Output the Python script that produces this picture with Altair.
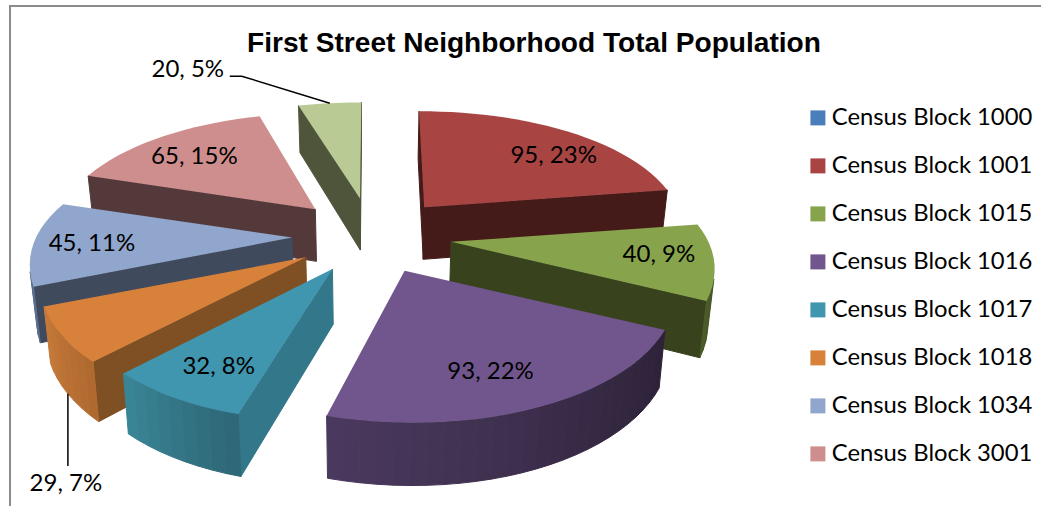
import math
import altair as alt

W, H = 1041, 506

# Chart values
BLOCKS = ["Census Block 1000", "Census Block 1001", "Census Block 1015", "Census Block 1016",
          "Census Block 1017", "Census Block 1018", "Census Block 1034", "Census Block 3001",
          "Census Block 3002"]
VALUES = [0, 95, 40, 93, 32, 29, 45, 65, 20]
PERCENTS = [0, 23, 9, 22, 8, 7, 11, 15, 5]
LEGEND_BLOCKS = BLOCKS[:8]

# Palette: top face, side wall, outer wall at its start and end angle
TOP = ["#4a7ebb", "#a84543", "#87a44c", "#70568c", "#4096ae", "#d7813b", "#91a6cc", "#ce8e8d", "#b9ca94"]
WALL = ["#2a4a70", "#451b19", "#38431e", "#2d2338", "#33778a", "#7f5024", "#3f4a5c", "#53393a", "#4e553b"]
OUTER_A = ["#2a4a70", "#451b19", "#38431e", "#2d2238", "#2f6878", "#b06a30", "#5a6c8c", "#53393a", "#4e553b"]
OUTER_B = ["#2a4a70", "#451b19", "#4c5c2a", "#4b3a5f", "#3a8799", "#c87b3a", "#7d93b8", "#53393a", "#4e553b"]

# Pie geometry
CX, CY = 372.0, 236.0      # common centre before the slices are pulled out
EXPLODE_X, EXPLODE_Y = 80.0, 38.0
DRAW_ORDER = [8, 1, 7, 6, 2, 5, 4, 3]
SLICE_SCALE = {1: 0.975, 2: 0.99, 3: 1.02, 6: 0.985, 7: 0.975}

# Label placement, as a share of the way along a slice's middle radius
LABEL_FX = {1: 0.94, 2: 0.79, 3: 0.64, 4: 0.72, 6: 0.775, 7: 0.80}
LABEL_FY = {1: 0.66, 2: 0.68, 3: 0.74, 4: 0.76, 6: 1.20, 7: 0.72}

total = sum(VALUES)


def angles():
    out, a = [], 0.0
    for v in VALUES:
        b = a + 360.0 * v / total
        out.append((a, b))
        a = b
    return out


ANGLES = angles()


def apex(i):
    mid = math.radians(sum(ANGLES[i]) / 2)
    return CX + EXPLODE_X * math.sin(mid), CY - EXPLODE_Y * math.cos(mid)


def radial(i, deg):
    """Screen offset from a slice's apex to its rim; near parts appear larger."""
    t = math.radians(deg)
    s, c = math.sin(t), math.cos(t)
    ax = apex(i)[0] - CX
    lean = 0.1 if c > 0 else 0.1 + 0.17 * c * c
    vertical = 122 - (26 if c > 0 else 30) * c
    k = SLICE_SCALE.get(i, 1.0)
    return k * s * (260 - 50 * c) - lean * ax * c, -c * vertical


def rim(i, deg):
    ax, ay = apex(i)
    dx, dy = radial(i, deg)
    return ax + dx, ay + dy


def drop(p):
    """Lower face of a point on the upper face."""
    x, y = p
    return x + (CX - x) * 0.02, y + 47 + 0.05 * (y - 106)


def mix(c1, c2, f):
    a = [int(c1[k:k + 2], 16) for k in (1, 3, 5)]
    b = [int(c2[k:k + 2], 16) for k in (1, 3, 5)]
    return "#" + "".join(f"{round(x + (y - x) * f):02x}" for x, y in zip(a, b))


def polygon(points, **props):
    ring = [[round(x, 2), round(y, 2)] for x, y in points]
    ring.append(ring[0])
    return {"type": "Feature", "properties": props, "geometry": {"type": "Polygon", "coordinates": [ring]}}


def polyline(points):
    return {"type": "Feature", "properties": {},
            "geometry": {"type": "LineString", "coordinates": [[round(x, 2), round(y, 2)] for x, y in points]}}


def faces_visible(a, b):
    q = [a, b, drop(b), drop(a)]
    return sum(q[k][0] * q[(k + 1) % 4][1] - q[(k + 1) % 4][0] * q[k][1] for k in range(4)) < 0


PROJ = dict(type="identity", scale=1, translate=[0, 0])
layers = []

for i in DRAW_ORDER:
    a0, a1 = ANGLES[i]
    steps = max(2, int((a1 - a0) / 3.0))
    arc = [a0 + (a1 - a0) * k / steps for k in range(steps + 1)]
    rim_pts = [rim(i, d) for d in arc]
    ap = apex(i)

    walls = []
    for p, q in ((ap, rim_pts[0]), (rim_pts[-1], ap)):
        if faces_visible(p, q):
            walls.append(polygon([p, q, drop(q), drop(p)], fill=WALL[i]))
    for k in range(steps):
        p, q = rim_pts[k], rim_pts[k + 1]
        if faces_visible(p, q):
            walls.append(polygon([p, q, drop(q), drop(p)], fill=mix(OUTER_A[i], OUTER_B[i], k / steps)))

    if walls:
        layers.append(
            alt.Chart(alt.Data(values=walls)).mark_geoshape(strokeWidth=1).encode(
                fill=alt.Fill("properties.fill:N", scale=None),
                stroke=alt.Stroke("properties.fill:N", scale=None),
            ).project(**PROJ)
        )

    top = polygon([ap] + rim_pts, block=BLOCKS[i], fill=TOP[i])
    if i < 8:
        layers.append(
            alt.Chart(alt.Data(values=[top])).mark_geoshape().encode(
                color=alt.Color(
                    "properties.block:N",
                    scale=alt.Scale(domain=LEGEND_BLOCKS, range=TOP[:8]),
                    legend=alt.Legend(
                        title=None, orient="none", legendX=806, legendY=106, padding=0,
                        symbolType="square", symbolSize=225, symbolStrokeWidth=0,
                        labelFont="Lato", labelFontSize=23.8, labelColor="#000000",
                        labelOffset=2, rowPadding=23, labelLimit=260,
                    ),
                )
            ).project(**PROJ)
        )
    else:
        layers.append(
            alt.Chart(alt.Data(values=[top])).mark_geoshape().encode(
                fill=alt.Fill("properties.fill:N", scale=None)
            ).project(**PROJ)
        )

# Frame along the left and top of the chart area
frame = polyline([(10, H + 5), (10, 6), (W + 5, 6)])
layers.append(
    alt.Chart(alt.Data(values=[frame])).mark_geoshape(filled=False, stroke="#8c8c8c", strokeWidth=2).project(**PROJ)
)


def mid_rim_bottom(i):
    return drop(rim(i, sum(ANGLES[i]) / 2))


# Leader lines for the two labels set outside the pie
orange_end = mid_rim_bottom(5)
green_end = rim(8, sum(ANGLES[8]) / 2)
leaders = [
    polyline([orange_end, (orange_end[0], 466)]),
    polyline([green_end, (green_end[0] - 88, green_end[1] - 27), (green_end[0] - 100, green_end[1] - 27)]),
]
layers.append(
    alt.Chart(alt.Data(values=leaders)).mark_geoshape(filled=False, stroke="#000000", strokeWidth=1.5).project(**PROJ)
)

# Data labels
label_rows = []
for i in range(1, 9):
    text = f"{VALUES[i]}, {PERCENTS[i]}%"
    mid = sum(ANGLES[i]) / 2
    ax, ay = apex(i)
    if i == 5:
        lx, ly = orange_end[0] - 2, 484
    elif i == 8:
        lx, ly = green_end[0] - 142, green_end[1] - 33
    else:
        dx, dy = radial(i, mid)
        lx, ly = ax + dx * LABEL_FX[i], ay + dy * LABEL_FY[i]
    label_rows.append({"lon": lx, "lat": ly, "text": text})

layers.append(
    alt.Chart(alt.Data(values=label_rows)).mark_text(
        font="Lato", fontSize=24, color="#000000", align="center", baseline="middle"
    ).encode(longitude="lon:Q", latitude="lat:Q", text="text:N").project(**PROJ)
)

chart = alt.layer(*layers).properties(
    width=W, height=H,
    padding=0,
    autosize=alt.AutoSizeParams(type="none"),
    title=alt.TitleParams(
        "First Street Neighborhood Total Population",
        font="Liberation Sans", fontSize=28.1, fontWeight="bold", color="#000000",
        anchor="start", align="center", dx=534, dy=58, offset=0,
    ),
).configure_view(stroke=None)

chart.save("out.html", embed_options={"renderer": "svg", "actions": False})
